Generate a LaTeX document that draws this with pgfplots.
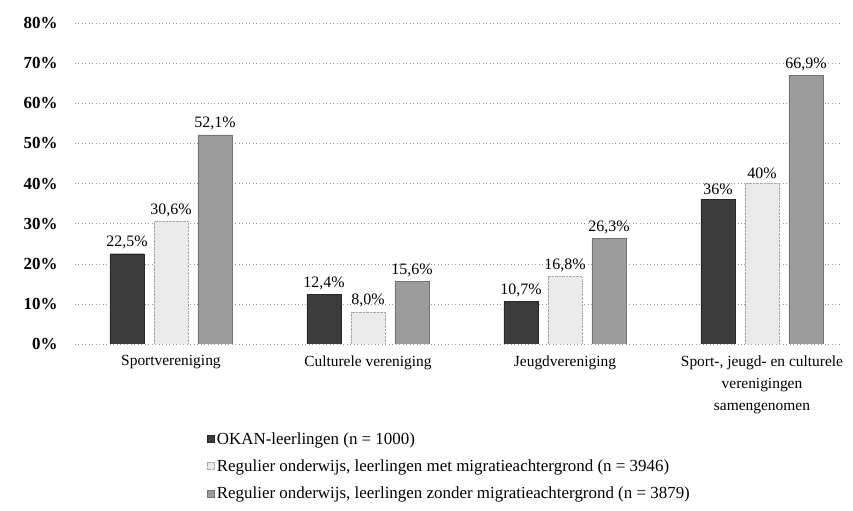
\documentclass[border=0pt]{standalone}
\usepackage{pgfplots}
\pgfplotsset{compat=1.18}
\usepackage{fontspec}
\setmainfont{Liberation Serif}
\definecolor{cdark}{HTML}{3C3C3C}
\definecolor{clight}{HTML}{EAEAEA}
\definecolor{cmed}{HTML}{9C9C9C}
\begin{document}
\begin{tikzpicture}
\begin{axis}[
  name=ax,
  scale only axis,
  width=765bp, height=321bp,
  ymin=0, ymax=80,
  xmin=-0.487, xmax=3.396,
  ybar=10bp, bar width=34bp,
  axis line style={draw=none},
  tick style={draw=none},
  ytick={0,10,...,80},
  yticklabel={\pgfmathprintnumber{\tick}\%},
  yticklabel style={font=\rmfamily\fontsize{17}{19}\selectfont\bfseries, xshift=-14bp},
  /pgf/number format/assume math mode=true,
  xtick=data,
  xticklabels={Sportvereniging, Culturele vereniging, Jeugdvereniging, {Sport-, jeugd- en culturele\\verenigingen\\samengenomen}},
  xticklabel style={font=\rmfamily\fontsize{15.5}{22}\selectfont, align=center, yshift=-4bp},
  ymajorgrids,
  major grid style={gray!80, dash pattern=on 1pt off 2.5pt},
  point meta=explicit symbolic,
  nodes near coords,
  nodes near coords style={font=\rmfamily\fontsize{16}{18}\selectfont, yshift=1bp},
  legend style={draw=none, fill=none, at={(0.169,-0.262)}, anchor=north west,
    font=\rmfamily\fontsize{17}{19}\selectfont, legend cell align=left, row sep=10bp},
  legend image code/.code={\draw[#1] (0bp,-3.5bp) rectangle (7bp,3.5bp);},
]
\addplot[fill=cdark, draw=black!85] coordinates {(0,22.5) [22,5\%] (1,12.4) [12,4\%] (2,10.7) [10,7\%] (3,36) [36\%]};
\addplot[fill=clight, draw=gray!70, densely dotted] coordinates {(0,30.6) [30,6\%] (1,8.0) [8,0\%] (2,16.8) [16,8\%] (3,40) [40\%]};
\addplot[fill=cmed, draw=black!55] coordinates {(0,52.1) [52,1\%] (1,15.6) [15,6\%] (2,26.3) [26,3\%] (3,66.9) [66,9\%]};
\legend{OKAN-leerlingen (n = 1000), {Regulier onderwijs, leerlingen met migratieachtergrond (n = 3946)}, {Regulier onderwijs, leerlingen zonder migratieachtergrond (n = 3879)}}
\end{axis}
\pgfresetboundingbox
\path ([shift={(-75bp,-167bp)}]ax.south west) rectangle ([shift={(13bp,23bp)}]ax.north east);
\end{tikzpicture}
\end{document}
